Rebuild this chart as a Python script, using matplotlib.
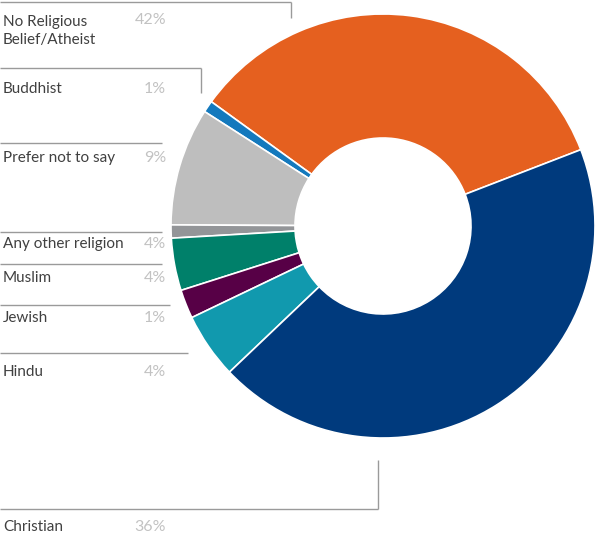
import matplotlib
matplotlib.use("Agg")
import matplotlib.pyplot as plt

# legend text, top to bottom
labels = ["No Religious\nBelief/Atheist", "Buddhist", "Prefer not to say",
          "Any other religion", "Muslim", "Jewish", "Hindu", "Christian"]
label_pct = ["42%", "1%", "9%", "4%", "4%", "1%", "4%", "36%"]

shares = [34.2, 0.9, 9.0, 1.0, 4.0, 2.2, 5.0, 43.8]
colors = ["#E5601F", "#1479BD", "#BEBEBE", "#939598",
          "#00806A", "#570046", "#1199AE", "#003A7D"]

W, H = 597, 540
fig = plt.figure(figsize=(W / 100, H / 100), dpi=100)
ax = fig.add_axes([0, 0, 1, 1])
ax.set_xlim(0, W)
ax.set_ylim(0, H)
ax.set_aspect("equal")
ax.axis("off")

def yy(y):
    # image rows -> axes y (origin bottom)
    return H - y

ax.pie(shares, colors=colors, startangle=21.1, counterclock=True,
       center=(383, yy(226)), radius=212,
       wedgeprops=dict(width=124, edgecolor="white", linewidth=1.2))
ax.set_xlim(0, W)
ax.set_ylim(0, H)

fnt = dict(family=["Lato", "DejaVu Sans"], fontweight="normal")
line_c = "#9a9a9a"

# leader lines: (y of line, x end, vertical drop end or None)
leaders = [(2, 291, 18), (68, 201, 93), (143, 162, None), (232, 162, None),
           (264, 162, None), (305, 170, None), (353, 188, None), (509, 378, 460)]
text_y = [31, 89, 158, 244, 278, 318, 372, 527]
pct_y = [20, 89, 158, 244, 278, 318, 372, 527]

for (ly, lx, vy), lab, pct, ty, py in zip(leaders, labels, label_pct, text_y, pct_y):
    ax.plot([0, lx], [yy(ly), yy(ly)], color=line_c, lw=1, solid_capstyle="butt")
    if vy is not None:
        ax.plot([lx, lx], [yy(ly), yy(vy)], color=line_c, lw=1, solid_capstyle="butt")
    ax.text(3, yy(ty), lab, ha="left", va="center", color="#404040",
            linespacing=1.3, fontsize=11, **fnt)
    ax.text(166, yy(py), pct, ha="right", va="center", color="#c2c2c2",
            fontsize=11.5, **fnt)

fig.savefig("out.png", dpi=100)
